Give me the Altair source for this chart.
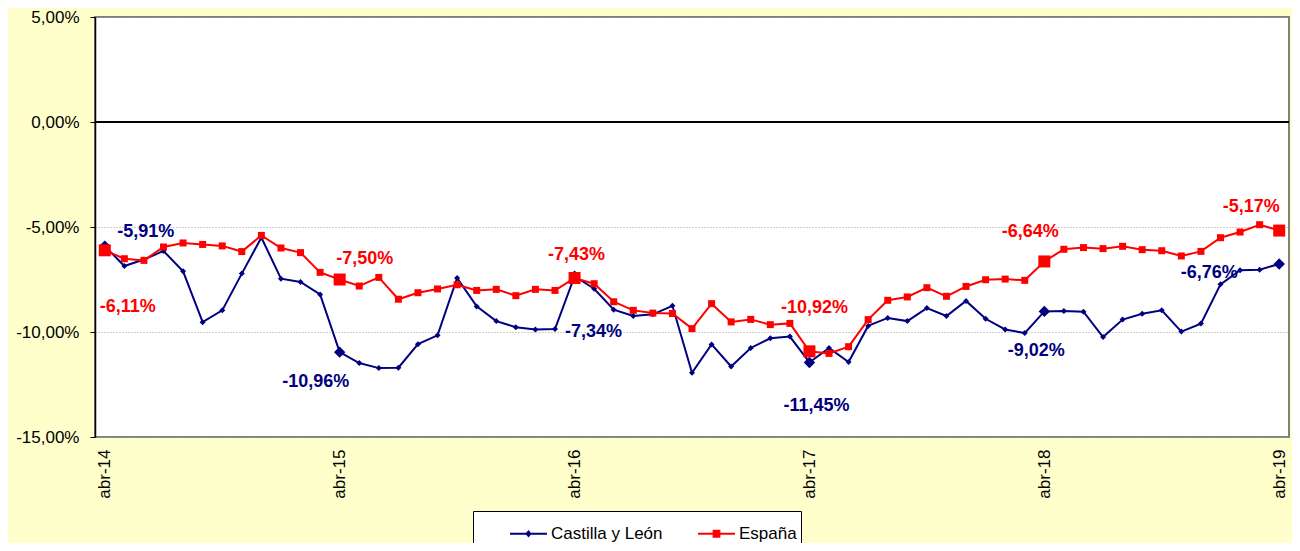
import altair as alt
import pandas as pd

FONT = "Liberation Sans"
CYL = "Castilla y León"
ESP = "España"

abrev = ["abr", "may", "jun", "jul", "ago", "sep", "oct", "nov", "dic", "ene", "feb", "mar"]
meses = [f"{abrev[k % 12]}-{14 + (k + 3) // 12:02d}" for k in range(61)]
abril = [m for m in meses if m.startswith("abr")]

cyl = [-5.91, -6.86, -6.55, -6.14, -7.11, -9.53, -8.97, -7.22, -5.50, -7.46, -7.62, -8.21,
       -10.96, -11.48, -11.72, -11.70, -10.58, -10.16, -7.43, -8.78, -9.48, -9.77, -9.88, -9.86,
       -7.34, -7.94, -8.94, -9.24, -9.16, -8.75, -11.94, -10.59, -11.64, -10.76, -10.30, -10.22,
       -11.45, -10.76, -11.43, -9.71, -9.33, -9.48, -8.86, -9.24, -8.52, -9.37, -9.88, -10.05,
       -9.02, -9.00, -9.03, -10.24, -9.41, -9.13, -8.97, -9.98, -9.60, -7.73, -7.06, -7.03, -6.76]

esp = [-6.11, -6.51, -6.59, -5.95, -5.76, -5.83, -5.90, -6.17, -5.40, -6.00, -6.22, -7.16,
       -7.50, -7.81, -7.40, -8.44, -8.13, -7.95, -7.75, -8.02, -7.97, -8.27, -7.97, -8.02,
       -7.43, -7.70, -8.56, -8.97, -9.10, -9.12, -9.84, -8.65, -9.52, -9.40, -9.65, -9.59,
       -10.92, -11.02, -10.70, -9.41, -8.49, -8.33, -7.89, -8.30, -7.83, -7.51, -7.48, -7.54,
       -6.64, -6.06, -5.98, -6.03, -5.92, -6.08, -6.13, -6.38, -6.16, -5.51, -5.24, -4.89, -5.17]

y_ticks = [-15, -10, -5, 0, 5]

df = pd.DataFrame({
    "mes": meses * 2,
    "serie": [CYL] * len(cyl) + [ESP] * len(esp),
    "valor": cyl + esp,
})

colors = {CYL: "#000080", ESP: "#FF0000"}

x = alt.X("mes:O",
          scale=alt.Scale(domain=meses, type="point", padding=0.5),
          axis=alt.Axis(values=abril, labelAngle=-90, labelAlign="right", labelBaseline="middle",
                        labelPadding=12, ticks=False, domain=False, grid=False, title=None,
                        labelFont=FONT, labelFontSize=17, labelColor="black"))
pct = "(datum.value < 0 ? '-' : '') + replace(format(abs(datum.value), '.2f'), '.', ',') + '%'"
y = alt.Y("valor:Q",
          scale=alt.Scale(domain=[-15, 5], nice=False, zero=False),
          axis=alt.Axis(values=y_ticks, labelExpr=pct, title=None, grid=True,
                        gridColor="#A0A0A0", gridDash=[1, 2], gridWidth=1,
                        domainColor="black", domainWidth=1.5, tickColor="black", tickSize=5,
                        labelPadding=11, labelFont=FONT, labelFontSize=17, labelColor="black"))

base = alt.Chart(df)

zero = base.mark_rule(color="black", strokeWidth=1).encode(y=alt.datum(0))

layers = [zero]
markers = {CYL: ("diamond", 36, 130), ESP: ("square", 49, 144)}
for s in [CYL, ESP]:
    shp, small, big = markers[s]
    sub = base.transform_filter(alt.datum.serie == s)
    layers.append(sub.mark_line(color=colors[s], strokeWidth=2).encode(x=x, y=y))
    layers.append(sub.mark_point(shape=shp, filled=True, size=small, opacity=1,
                                 color=colors[s]).encode(x=x, y=y))
    layers.append(sub.transform_filter(alt.FieldOneOfPredicate(field="mes", oneOf=abril))
                  .mark_point(shape=shp, filled=True, size=big, opacity=1, color=colors[s])
                  .encode(x=x, y=y))

label_offsets = {
    (CYL, "abr-14"): (41, -14), (ESP, "abr-14"): (23, 57),
    (CYL, "abr-15"): (-24, 30), (ESP, "abr-15"): (25, -21),
    (CYL, "abr-16"): (19, 56), (ESP, "abr-16"): (2, -23),
    (CYL, "abr-17"): (7, 44), (ESP, "abr-17"): (5, -43),
    (CYL, "abr-18"): (-8, 40), (ESP, "abr-18"): (-14, -29),
    (CYL, "abr-19"): (-70, 9), (ESP, "abr-19"): (-28, -24),
}
txt_expr = "(datum.valor < 0 ? '-' : '') + replace(format(abs(datum.valor), '.2f'), '.', ',') + '%'"
for (s, m), (dx, dy) in label_offsets.items():
    layers.append(
        base.transform_filter((alt.datum.serie == s) & (alt.datum.mes == m))
        .transform_calculate(txt=txt_expr)
        .mark_text(dx=dx, dy=dy, font=FONT, fontSize=18, fontWeight="bold",
                   color=colors[s], align="center", baseline="middle")
        .encode(x=x, y=y, text="txt:N")
    )

diamond_path = "M-1,-0.054H1V0.054H-1Z M0,-0.2L0.17,0L0,0.2L-0.17,0Z"
square_path = "M-1,-0.054H1V0.054H-1Z M-0.21,-0.21H0.21V0.21H-0.21Z"
leg = alt.Legend(orient="none", direction="horizontal", legendX=378, legendY=494,
                 fillColor="white", strokeColor="black", padding=4, symbolOffset=33,
                 columnPadding=2, labelOffset=4, symbolSize=1369, symbolStrokeWidth=0,
                 labelExpr="datum.label == '" + ESP + "' ? datum.label + '      ' : datum.label",
                 labelFont=FONT, labelFontSize=17, labelColor="black", title=None)
legend_layer = base.transform_filter("false").mark_point(filled=True, opacity=1).encode(
    x=x, y=y,
    color=alt.Color("serie:N", scale=alt.Scale(domain=[CYL, ESP], range=[colors[CYL], colors[ESP]]),
                    legend=leg),
    shape=alt.Shape("serie:N", scale=alt.Scale(domain=[CYL, ESP], range=[diamond_path, square_path]),
                    legend=leg),
)
layers.append(legend_layer)

chart = alt.layer(*layers).properties(
    width=1194, height=420,
    padding={"left": 87, "top": 9, "right": 3, "bottom": 106},
    autosize=alt.AutoSizeParams(type="none"),
    background="#FFFFCC",
).configure_view(stroke="#808080", strokeWidth=2, fill="white")

chart.save("out.html", embed_options={"renderer": "svg", "actions": False})
